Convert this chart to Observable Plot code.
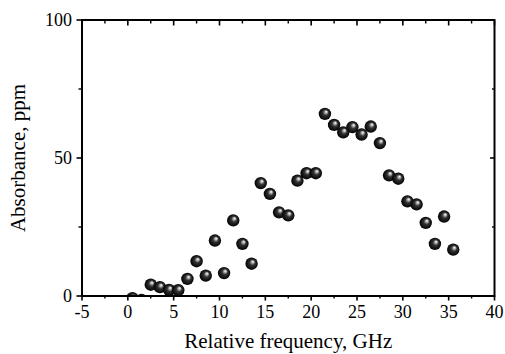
<!DOCTYPE html>
<html>
<head>
<meta charset="utf-8">
<script src="https://cdn.jsdelivr.net/npm/d3@7"></script>
<script src="https://cdn.jsdelivr.net/npm/@observablehq/plot@0.6"></script>
<style>
  html, body { margin: 0; padding: 0; background: #fff; }
  svg { display: block; }
  svg text { font-family: 'Liberation Serif', 'Times New Roman', serif !important; font-size: 18px !important; }
  svg g[aria-label="x-axis label"] text, svg g[aria-label="y-axis label"] text { font-size: 21px !important; }
</style>
</head>
<body>
<div id="chart"></div>
<script>
const freq = [0.5, 1.5, 2.5, 3.5, 4.5, 5.5, 6.5, 7.5, 8.5, 9.5, 10.5, 11.5, 12.5, 13.5, 14.5, 15.5, 16.5, 17.5, 18.5, 19.5, 20.5, 21.5, 22.5, 23.5, 24.5, 25.5, 26.5, 27.5, 28.5, 29.5, 30.5, 31.5, 32.5, 33.5, 34.5, 35.5];
const absorbance = [-0.8, -1.4, 4.1, 3.2, 2.2, 2.1, 6.2, 12.6, 7.4, 20.1, 8.3, 27.4, 18.9, 11.7, 40.9, 37.0, 30.3, 29.2, 41.8, 44.5, 44.5, 66.0, 62.0, 59.3, 61.2, 58.5, 61.4, 55.4, 43.7, 42.5, 34.3, 33.2, 26.5, 18.9, 28.8, 16.8];
const xMajor = [-5, 0, 5, 10, 15, 20, 25, 30, 35, 40];
const xMinor = [-2.5, 2.5, 7.5, 12.5, 17.5, 22.5, 27.5, 32.5, 37.5];
const yMajor = [0, 50, 100];
const yMinor = [25, 75];

const data = freq.map((f, i) => ({f, a: absorbance[i]}));
const fmt = d => String(d);

const plot = Plot.plot({
  width: 505,
  height: 354,
  marginLeft: 81.5,
  marginRight: 11,
  marginTop: 19.5,
  marginBottom: 58.5,
  style: {color: "#000", background: "#fff"},
  x: {domain: [-5, 40]},
  y: {domain: [0, 100]},
  marks: [
    Plot.dot(data, {x: "f", y: "a", r: 6.2, fill: "url(#ball)", stroke: "none", clip: "frame"}),
    Plot.frame({stroke: "#000", strokeWidth: 2}),
    Plot.axisX(xMajor, {anchor: "bottom", tickSize: 5, tickPadding: 4, strokeWidth: 1.6, tickFormat: fmt, label: "Relative frequency, GHz", labelAnchor: "center", labelOffset: 52, labelArrow: "none"}),
    Plot.axisX(xMinor, {anchor: "bottom", tickSize: 3, strokeWidth: 1.4, text: null, label: null}),
    Plot.axisX(xMajor, {anchor: "top", tickSize: -5, strokeWidth: 1.6, text: null, label: null}),
    Plot.axisX(xMinor, {anchor: "top", tickSize: -3, strokeWidth: 1.4, text: null, label: null}),
    Plot.axisY(yMajor, {anchor: "left", tickSize: 5, tickPadding: 5, strokeWidth: 1.6, tickFormat: fmt, label: "Absorbance, ppm", labelAnchor: "center", labelOffset: 72, labelArrow: "none"}),
    Plot.axisY(yMinor, {anchor: "left", tickSize: 3, strokeWidth: 1.4, text: null, label: null}),
    Plot.axisY(yMajor, {anchor: "right", tickSize: -5, strokeWidth: 1.6, text: null, label: null}),
    Plot.axisY(yMinor, {anchor: "right", tickSize: -3, strokeWidth: 1.4, text: null, label: null})
  ]
});

const ns = "http://www.w3.org/2000/svg";
const defs = document.createElementNS(ns, "defs");
defs.innerHTML = `<radialGradient id="ball" cx="0.5" cy="0.5" r="0.5" fx="0.62" fy="0.32">
  <stop offset="0" stop-color="#ffffff"/>
  <stop offset="0.18" stop-color="#b8b8b8"/>
  <stop offset="0.45" stop-color="#333333"/>
  <stop offset="1" stop-color="#000000"/>
</radialGradient>`;
plot.insertBefore(defs, plot.firstChild);
document.getElementById("chart").appendChild(plot);
</script>
</body>
</html>
